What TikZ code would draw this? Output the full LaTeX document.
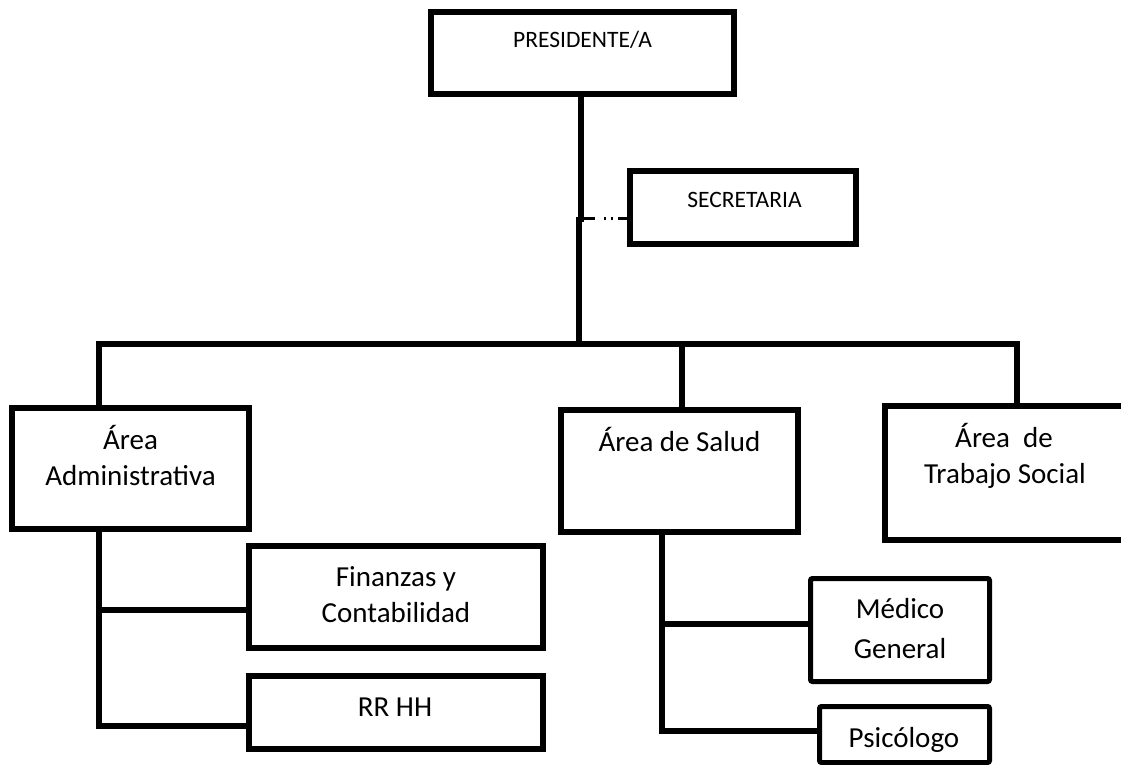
\documentclass[tikz,border=0pt]{standalone}
\usepackage{fontspec}
\setmainfont{Carlito}
\begin{document}
\begin{tikzpicture}[x=1pt,y=-1pt,
  box/.style={draw=black, line width=6pt, inner sep=0pt, fill=white},
  sbox/.style={draw=black, line width=5pt, inner sep=0pt, rounded corners=2pt, fill=white},
  conn/.style={draw=black, line width=6pt, line join=miter},
  dotconn/.style={draw=black, line width=3pt, dash pattern=on 14pt off 9pt on 2pt off 5pt on 2pt off 5pt},
  big/.style={font=\fontsize{29}{35}\selectfont, inner sep=0pt, anchor=base},
  small/.style={font=\fontsize{23.5}{28}\selectfont, inner sep=0pt, anchor=base}]
\useasboundingbox (0,0) rectangle (1121,765);
\clip (0,0) rectangle (1121,765);

% boxes
\node[box, minimum width=303pt, minimum height=82pt]  (pres) at (582.5,53) {};
\node[box, minimum width=226pt, minimum height=73pt]  (sec)  at (743,207.5) {};
\node[box, minimum width=237pt, minimum height=121pt] (adm)  at (130.5,468.5) {};
\node[box, minimum width=237pt, minimum height=122pt] (sal)  at (679.5,471) {};
\node[box, minimum width=240pt, minimum height=134pt] (trab) at (1005,473) {};
\node[box, minimum width=294pt, minimum height=102pt] (fin)  at (396,597) {};
\node[box, minimum width=294pt, minimum height=73pt]  (rrhh) at (396,712.5) {};
\node[sbox, minimum width=179pt, minimum height=103pt] (med) at (900,630) {};
\node[sbox, minimum width=170pt, minimum height=56pt]  (psi) at (904.5,734.5) {};

% texts
\node[small] (presT) at (582.5,48) {PRESIDENTE/A};
\node[small] (secT)  at (744.5,207) {SECRETARIA};
\node[big] (admT1) at (130.5,449) {Área};
\node[big] (admT2) at (130.5,485) {Administrativa};
\node[big] (salT)  at (679.5,451) {Área de Salud};
\node[big] (trabT1) at (1004,447) {Área\ \ de};
\node[big] (trabT2) at (1005,483) {Trabajo Social};
\node[big] (finT1) at (396,586) {Finanzas y};
\node[big] (finT2) at (396,622) {Contabilidad};
\node[big] (rrhhT) at (395,716) {RR HH};
\node[big] (medT1) at (900,618) {Médico};
\node[big] (medT2) at (900,658) {General};
\node[big] (psiT)  at (904,747) {Psicólogo};

% connectors
\coordinate (v1) at (581,222);
\coordinate (v2) at (578.5,217);
\coordinate (bus) at (578.5,344);
\coordinate (busL) at (99,344);
\coordinate (busR) at (1017,344);
\coordinate (busS) at (682,344);
\coordinate (j) at (581,218);
\coordinate (af) at (99,610);
\coordinate (a1) at (99,726);
\coordinate (sm) at (662,624);
\coordinate (s1) at (662,731);

\draw[conn] (v1 |- pres.south) -- (v1);
\draw[conn] (v2) -- (bus);
\draw[dotconn] (j) -- (j -| sec.west);
\draw[conn] (busL |- adm.north) -- (busL) -- (busR) -- (busR |- trab.north);
\draw[conn] (busS) -- (busS |- sal.north);
\draw[conn] (adm.south -| a1) -- (a1) -- (a1 -| rrhh.west);
\draw[conn] (af) -- (af -| fin.west);
\draw[conn] (sal.south -| s1) -- (s1) -- (s1 -| psi.west);
\draw[conn] (sm) -- (sm -| med.west);
\end{tikzpicture}
\end{document}
